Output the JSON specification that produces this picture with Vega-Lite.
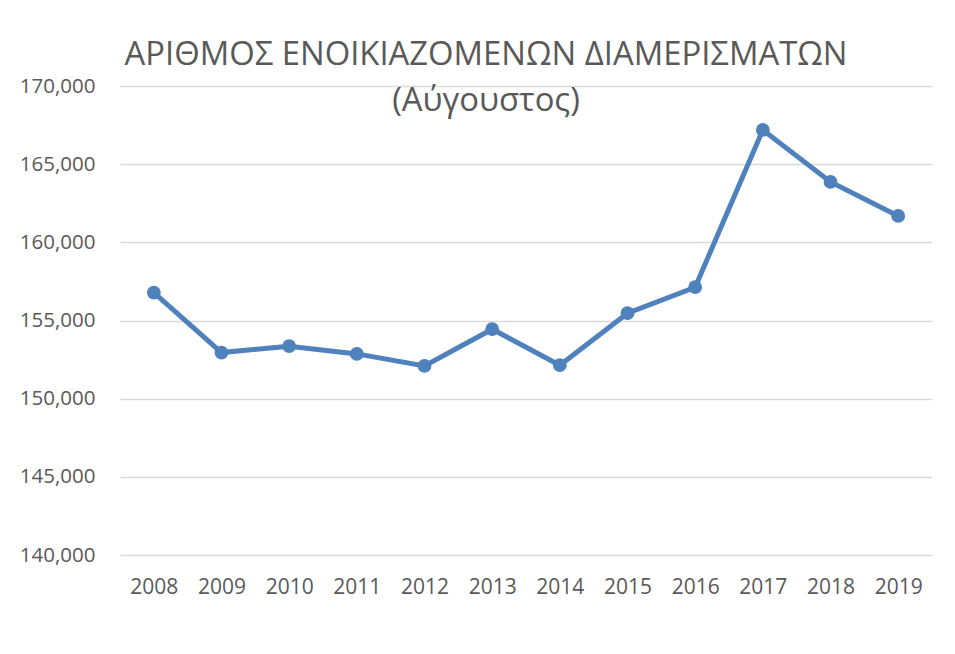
{
  "$schema": "https://vega.github.io/schema/vega-lite/v6.json",
  "width": 812,
  "height": 469,
  "autosize": {"type": "none"},
  "padding": {"left": 120, "top": 86, "right": 23, "bottom": 99},
  "background": "white",
  "config": {
    "view": {"stroke": null},
    "font": "Open Sans"
  },
  "title": {
    "text": ["ΑΡΙΘΜΟΣ ΕΝΟΙΚΙΑΖΟΜΕΝΩΝ ΔΙΑΜΕΡΙΣΜΑΤΩΝ", "(Αύγουστος)"],
    "font": "Open Sans",
    "fontSize": 32.8,
    "fontWeight": "normal",
    "color": "#595959",
    "lineHeight": 46,
    "anchor": "middle",
    "dx": -40,
    "offset": -42
  },
  "data": {
    "values": [
      {"year": "2008", "value": 156784},
      {"year": "2009", "value": 152948},
      {"year": "2010", "value": 153357},
      {"year": "2011", "value": 152864},
      {"year": "2012", "value": 152097},
      {"year": "2013", "value": 154444},
      {"year": "2014", "value": 152142},
      {"year": "2015", "value": 155467},
      {"year": "2016", "value": 157129},
      {"year": "2017", "value": 167187},
      {"year": "2018", "value": 163862},
      {"year": "2019", "value": 161688}
    ]
  },
  "encoding": {
    "x": {
      "field": "year",
      "type": "ordinal",
      "scale": {"type": "point", "padding": 0.5},
      "axis": {
        "title": null,
        "domain": false,
        "ticks": false,
        "grid": false,
        "labelAngle": 0,
        "labelFont": "Open Sans",
        "labelFontSize": 21,
        "labelColor": "#595959",
        "labelPadding": 21
      }
    },
    "y": {
      "field": "value",
      "type": "quantitative",
      "scale": {"domain": [140000, 170000], "nice": false, "zero": false},
      "axis": {
        "title": null,
        "domain": false,
        "ticks": false,
        "tickCount": 6,
        "format": ",d",
        "grid": true,
        "gridColor": "#d9d9d9",
        "gridWidth": 1.5,
        "labelFont": "Open Sans",
        "labelFontSize": 20.5,
        "labelColor": "#595959",
        "labelPadding": 25
      }
    }
  },
  "layer": [
    {"mark": {"type": "line", "color": "#4f81bd", "strokeWidth": 5}},
    {"mark": {"type": "point", "filled": true, "opacity": 1, "color": "#4f81bd", "size": 190}}
  ]
}
